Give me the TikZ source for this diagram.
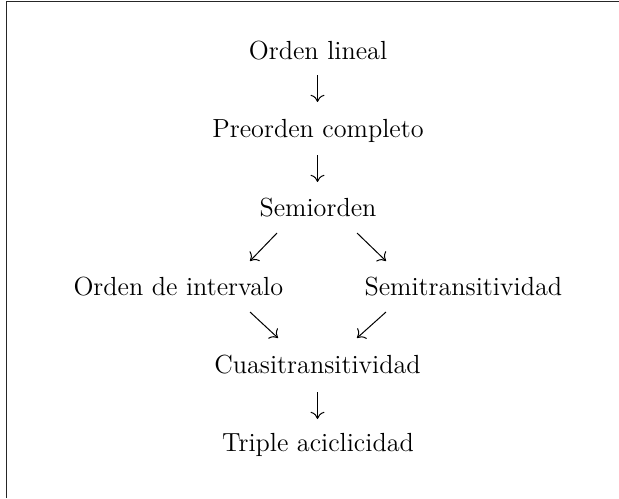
\documentclass[tikz,border=0pt]{standalone}
\usetikzlibrary{arrows.meta}
\begin{document}
\begin{tikzpicture}[x=0.5pt,y=-0.5pt,
  lbl/.style={anchor=base,inner sep=0pt,font=\fontsize{13.1pt}{15pt}\selectfont},
  arr/.style={line width=0.5pt,-{Computer Modern Rightarrow[length=3.6pt,width=7pt,line width=0.5pt]}},
  frame/.style={line width=0.6pt,draw=black!85}]
\useasboundingbox (0,0) rectangle (619,498);
\draw[frame] (6.5,498) -- (6.5,1.7) -- (619,1.7);
\node[lbl] (lin) at (318,59.3) {Orden lineal};
\node[lbl] (pre) at (318,137) {Preorden completo};
\node[lbl] (semi) at (318,216) {Semiorden};
\node[lbl] (int) at (178.3,295) {Orden de intervalo};
\node[lbl] (stran) at (463.3,295) {Semitransitividad};
\node[lbl] (cuasi) at (317.5,373) {Cuasitransitividad};
\node[lbl] (trip) at (318,451.7) {Triple aciclicidad};
\coordinate (a1s) at (317.5,75);   \coordinate (a1e) at (317.5,102);
\coordinate (a2s) at (317.5,155);  \coordinate (a2e) at (317.5,182);
\coordinate (a3s) at (277,233);  \coordinate (a3e) at (250,261);
\coordinate (a4s) at (357,233);  \coordinate (a4e) at (386,261);
\coordinate (a5s) at (250,312);  \coordinate (a5e) at (278,338);
\coordinate (a6s) at (386,312);  \coordinate (a6e) at (357,338);
\coordinate (a7s) at (317.5,392);  \coordinate (a7e) at (317.5,419);
\draw[arr] (a1s) -- (a1e);
\draw[arr] (a2s) -- (a2e);
\draw[arr] (a3s) -- (a3e);
\draw[arr] (a4s) -- (a4e);
\draw[arr] (a5s) -- (a5e);
\draw[arr] (a6s) -- (a6e);
\draw[arr] (a7s) -- (a7e);
\end{tikzpicture}
\end{document}
